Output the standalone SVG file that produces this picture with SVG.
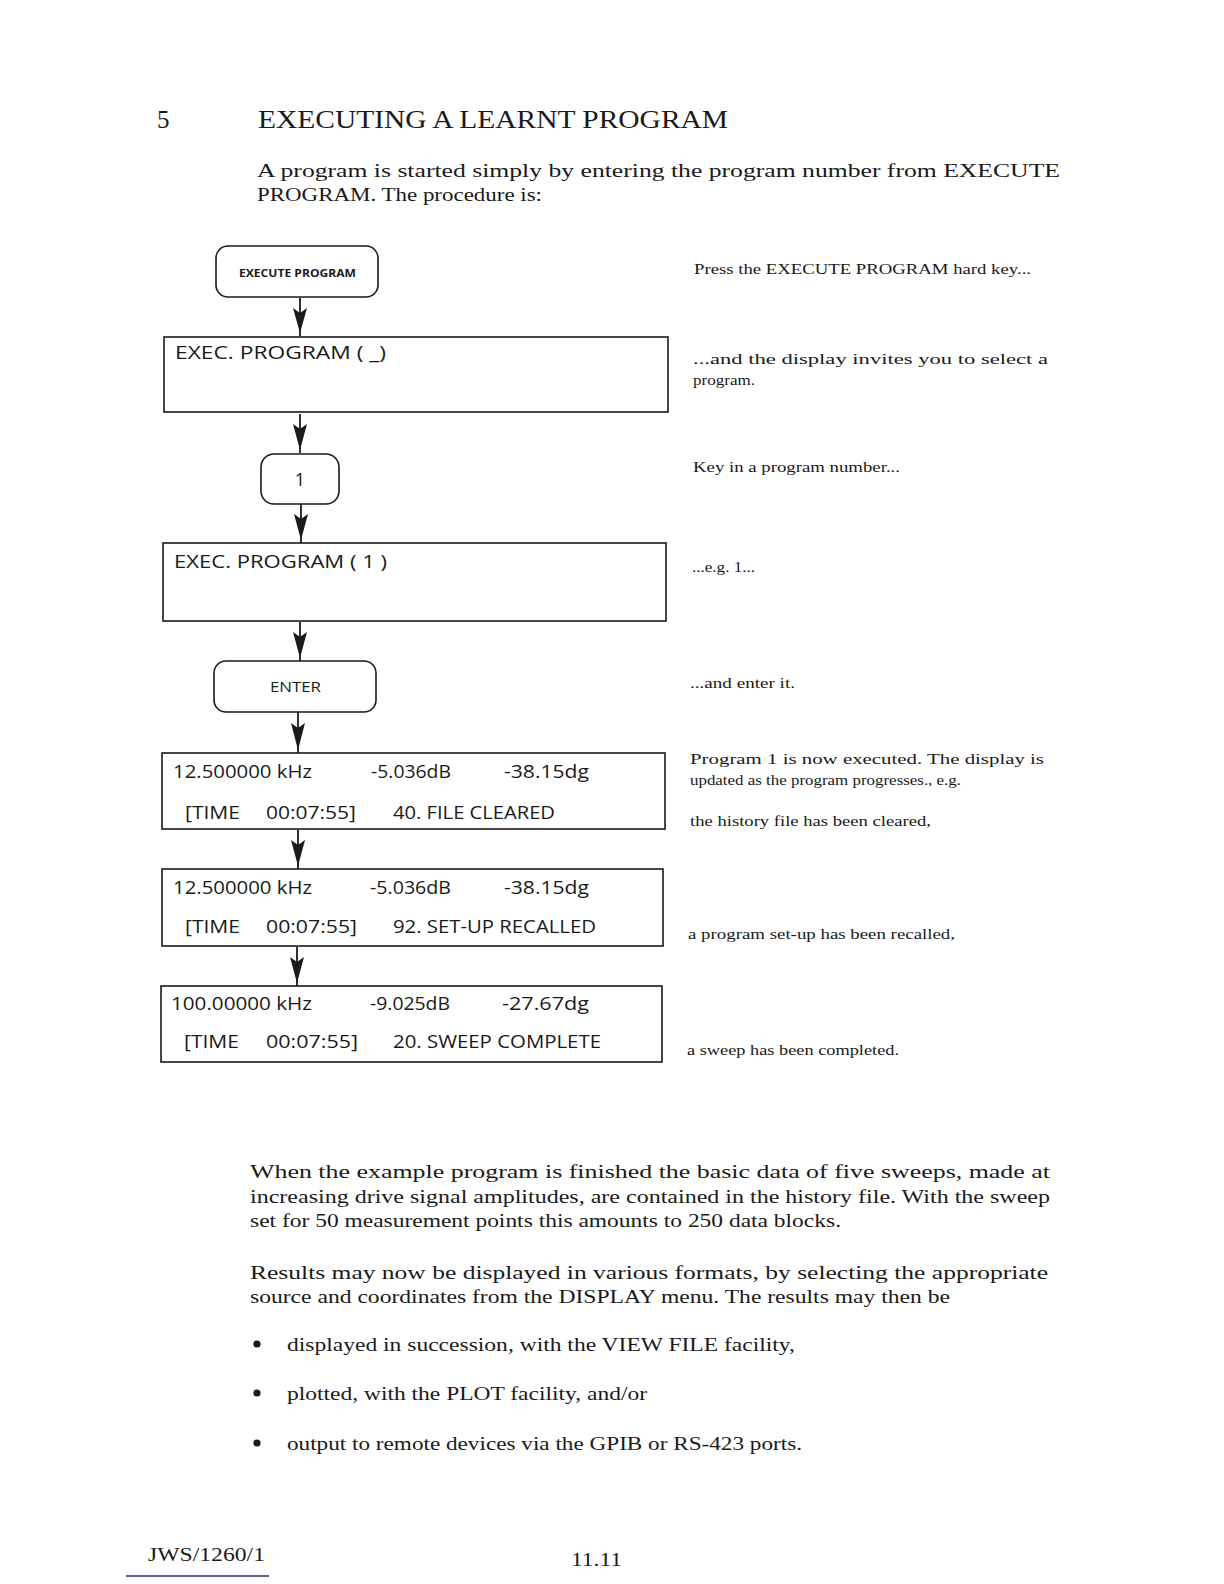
<svg xmlns="http://www.w3.org/2000/svg" width="1224" height="1584" viewBox="0 0 1224 1584">
<defs>
<style>
.serif{font-family:"Liberation Serif","DejaVu Serif",serif;fill:#1a1a1a}
.body{font-size:19px}
.note{font-size:15px}
.disp{font-family:"Open Sans","Noto Sans","DejaVu Sans",sans-serif;font-size:18px;fill:#1a1a1a}
.key{font-family:"Open Sans","Noto Sans","DejaVu Sans",sans-serif;fill:#1a1a1a}
.box{fill:#fff;stroke:#1a1a1a;stroke-width:1.6}
.btn{fill:#fff;stroke:#1a1a1a;stroke-width:1.6}
.stem{stroke:#1a1a1a;stroke-width:1.8;fill:none}
.head{fill:#1a1a1a}
</style>
</defs>
<rect width="1224" height="1584" fill="#fff"/>

<g id="header">
<text class="serif" x="157" y="128" font-size="25">5</text>
<text class="serif" x="258" y="128" font-size="26" textLength="470" lengthAdjust="spacingAndGlyphs">EXECUTING A LEARNT PROGRAM</text>
<text class="serif body" x="257" y="177" textLength="803" lengthAdjust="spacingAndGlyphs">A program is started simply by entering the program number from EXECUTE</text>
<text class="serif body" x="257" y="201" textLength="285" lengthAdjust="spacingAndGlyphs">PROGRAM. The procedure is:</text>
</g>

<g id="connectors">
<line class="stem" x1="300" y1="298" x2="300" y2="336"/>
<path class="head" d="M293,308 L300,313 L307,308 L300,333 Z"/>
<line class="stem" x1="300" y1="414" x2="300" y2="453"/>
<path class="head" d="M293,424 L300,429 L307,424 L300,450 Z"/>
<line class="stem" x1="301" y1="504" x2="301" y2="543"/>
<path class="head" d="M294,514 L301,519 L308,514 L301,540 Z"/>
<line class="stem" x1="300" y1="622" x2="300" y2="661"/>
<path class="head" d="M293,632 L300,637 L307,632 L300,658 Z"/>
<line class="stem" x1="298" y1="712" x2="298" y2="753"/>
<path class="head" d="M291,723 L298,728 L305,723 L298,750 Z"/>
<line class="stem" x1="298" y1="830" x2="298" y2="869"/>
<path class="head" d="M291,840 L298,845 L305,840 L298,866 Z"/>
<line class="stem" x1="297" y1="947" x2="297" y2="986"/>
<path class="head" d="M290,957 L297,962 L304,957 L297,983 Z"/>
</g>

<g id="key-execute">
<rect class="btn" x="216" y="246" width="162" height="51" rx="12"/>
<text class="key" x="239" y="277" font-size="10.5" font-weight="bold" textLength="117" lengthAdjust="spacingAndGlyphs">EXECUTE PROGRAM</text>
</g>

<g id="display-1">
<rect class="box" x="164" y="337" width="504" height="75"/>
<text class="disp" x="175" y="359" textLength="211" lengthAdjust="spacingAndGlyphs">EXEC. PROGRAM (  _)</text>
</g>

<g id="key-1">
<rect class="btn" x="261" y="454" width="78" height="50" rx="13"/>
<text class="key" x="300" y="486" font-size="18" text-anchor="middle">1</text>
</g>

<g id="display-2">
<rect class="box" x="163" y="543" width="503" height="78"/>
<text class="disp" x="174" y="568" textLength="213" lengthAdjust="spacingAndGlyphs">EXEC. PROGRAM ( 1 )</text>
</g>

<g id="key-enter">
<rect class="btn" x="214" y="661" width="162" height="51" rx="12"/>
<text class="key" x="270" y="692" font-size="14" textLength="51" lengthAdjust="spacingAndGlyphs">ENTER</text>
</g>

<g id="display-3">
<rect class="box" x="162" y="753" width="503" height="76"/>
<text class="disp" x="173" y="778" textLength="139" lengthAdjust="spacingAndGlyphs">12.500000 kHz</text>
<text class="disp" x="371" y="778" textLength="80" lengthAdjust="spacingAndGlyphs">-5.036dB</text>
<text class="disp" x="504" y="778" textLength="85" lengthAdjust="spacingAndGlyphs">-38.15dg</text>
<text class="disp" x="185" y="819" textLength="55" lengthAdjust="spacingAndGlyphs">[TIME</text>
<text class="disp" x="266" y="819" textLength="90" lengthAdjust="spacingAndGlyphs">00:07:55]</text>
<text class="disp" x="393" y="819" textLength="162" lengthAdjust="spacingAndGlyphs">40. FILE CLEARED</text>
</g>

<g id="display-4">
<rect class="box" x="162" y="869" width="501" height="77"/>
<text class="disp" x="173" y="894" textLength="139" lengthAdjust="spacingAndGlyphs">12.500000 kHz</text>
<text class="disp" x="370" y="894" textLength="81" lengthAdjust="spacingAndGlyphs">-5.036dB</text>
<text class="disp" x="504" y="894" textLength="85" lengthAdjust="spacingAndGlyphs">-38.15dg</text>
<text class="disp" x="185" y="933" textLength="55" lengthAdjust="spacingAndGlyphs">[TIME</text>
<text class="disp" x="266" y="933" textLength="91" lengthAdjust="spacingAndGlyphs">00:07:55]</text>
<text class="disp" x="393" y="933" textLength="203" lengthAdjust="spacingAndGlyphs">92. SET-UP RECALLED</text>
</g>

<g id="display-5">
<rect class="box" x="161" y="986" width="501" height="76"/>
<text class="disp" x="171" y="1010" textLength="141" lengthAdjust="spacingAndGlyphs">100.00000 kHz</text>
<text class="disp" x="370" y="1010" textLength="80" lengthAdjust="spacingAndGlyphs">-9.025dB</text>
<text class="disp" x="502" y="1010" textLength="87" lengthAdjust="spacingAndGlyphs">-27.67dg</text>
<text class="disp" x="184" y="1048" textLength="55" lengthAdjust="spacingAndGlyphs">[TIME</text>
<text class="disp" x="266" y="1048" textLength="92" lengthAdjust="spacingAndGlyphs">00:07:55]</text>
<text class="disp" x="393" y="1048" textLength="208" lengthAdjust="spacingAndGlyphs">20. SWEEP COMPLETE</text>
</g>

<g id="notes">
<text class="serif note" x="694" y="274" textLength="337" lengthAdjust="spacingAndGlyphs">Press the EXECUTE PROGRAM hard key...</text>
<text class="serif note" x="693" y="364" textLength="355" lengthAdjust="spacingAndGlyphs">...and the display invites you to select a</text>
<text class="serif note" x="693" y="385" textLength="62" lengthAdjust="spacingAndGlyphs">program.</text>
<text class="serif note" x="693" y="472" textLength="207" lengthAdjust="spacingAndGlyphs">Key in a program number...</text>
<text class="serif note" x="692" y="572" textLength="63" lengthAdjust="spacingAndGlyphs">...e.g. 1...</text>
<text class="serif note" x="690" y="688" textLength="105" lengthAdjust="spacingAndGlyphs">...and enter it.</text>
<text class="serif note" x="690" y="764" textLength="354" lengthAdjust="spacingAndGlyphs">Program 1 is now executed.  The display is</text>
<text class="serif note" x="690" y="785" textLength="271" lengthAdjust="spacingAndGlyphs">updated as the program progresses., e.g.</text>
<text class="serif note" x="690" y="826" textLength="241" lengthAdjust="spacingAndGlyphs">the history file has been cleared,</text>
<text class="serif note" x="688" y="939" textLength="267" lengthAdjust="spacingAndGlyphs">a program set-up has been recalled,</text>
<text class="serif note" x="687" y="1055" textLength="212" lengthAdjust="spacingAndGlyphs">a sweep has been completed.</text>
</g>

<g id="body-text">
<text class="serif body" x="250" y="1178" textLength="800" lengthAdjust="spacingAndGlyphs">When the example program is finished the basic data of five sweeps, made at</text>
<text class="serif body" x="250" y="1203" textLength="800" lengthAdjust="spacingAndGlyphs">increasing drive signal amplitudes, are contained in the history file.  With the sweep</text>
<text class="serif body" x="250" y="1227" textLength="591" lengthAdjust="spacingAndGlyphs">set for 50 measurement points this amounts to 250 data blocks.</text>
<text class="serif body" x="250" y="1279" textLength="798" lengthAdjust="spacingAndGlyphs">Results may now be displayed in various formats, by selecting the appropriate</text>
<text class="serif body" x="250" y="1303" textLength="700" lengthAdjust="spacingAndGlyphs">source and coordinates from the DISPLAY menu.  The results may then be</text>
<circle cx="257" cy="1344" r="3.6" fill="#1a1a1a"/>
<text class="serif body" x="287" y="1351" textLength="508" lengthAdjust="spacingAndGlyphs">displayed in succession, with the VIEW FILE  facility,</text>
<circle cx="257" cy="1393" r="3.6" fill="#1a1a1a"/>
<text class="serif body" x="287" y="1400" textLength="360" lengthAdjust="spacingAndGlyphs">plotted, with the PLOT facility, and/or</text>
<circle cx="257" cy="1443" r="3.6" fill="#1a1a1a"/>
<text class="serif body" x="287" y="1450" textLength="515" lengthAdjust="spacingAndGlyphs">output to remote  devices via the GPIB or RS-423 ports.</text>
</g>

<g id="footer">
<text class="serif body" x="148" y="1561" textLength="117" lengthAdjust="spacingAndGlyphs">JWS/1260/1</text>
<text class="serif body" x="571" y="1566" textLength="51" lengthAdjust="spacingAndGlyphs">11.11</text>
<line x1="126" y1="1576" x2="269" y2="1576" stroke="#2a2a7a" stroke-width="1.5"/>
</g>
</svg>
